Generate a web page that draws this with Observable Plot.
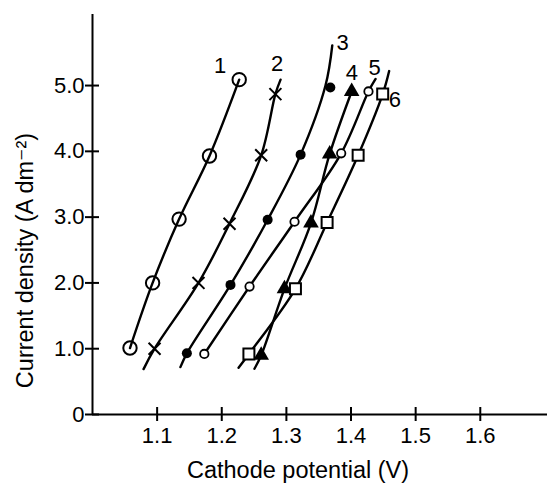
<!DOCTYPE html>
<html><head><meta charset="utf-8">
<script src="https://cdn.jsdelivr.net/npm/d3@7"></script>
<script src="https://cdn.jsdelivr.net/npm/@observablehq/plot@0.6"></script>
<style>
body{margin:0;background:#fff}
svg{display:block}
</style>
</head><body><div id="chart"></div>
<script>
// Tick labels
const xTicks = [1.1, 1.2, 1.3, 1.4, 1.5, 1.6];
const yTicks = [0, 1, 2, 3, 4, 5];
const xTitle = "Cathode potential (V)";
const yTitle = "Current density (A dm⁻²)";

// Measured points (cathode potential V, current density A dm-2)
const s1x = [1.058, 1.093, 1.134, 1.181, 1.227];
const s1y = [1.01, 2.00, 2.97, 3.93, 5.09];
const s2x = [1.096, 1.164, 1.212, 1.261, 1.283];
const s2y = [1.00, 2.00, 2.90, 3.94, 4.87];
const s3x = [1.146, 1.2135, 1.271, 1.322, 1.368];
const s3y = [0.93, 1.97, 2.96, 3.95, 4.97];
const s4x = [1.261, 1.297, 1.338, 1.367, 1.401];
const s4y = [0.90, 1.91, 2.91, 3.96, 4.91];
const s5x = [1.173, 1.243, 1.3126, 1.3848, 1.427];
const s5y = [0.92, 1.945, 2.93, 3.97, 4.91];
const s6x = [1.242, 1.314, 1.363, 1.411, 1.449];
const s6y = [0.92, 1.91, 2.92, 3.94, 4.87];

// Drawn curves (incl. end extensions)
const c1x = [1.058, 1.093, 1.134, 1.181, 1.227];
const c1y = [1.01, 2.00, 2.97, 3.93, 5.09];
const c2x = [1.079, 1.096, 1.164, 1.212, 1.261, 1.283, 1.291];
const c2y = [0.69, 1.00, 2.00, 2.90, 3.94, 4.87, 5.09];
const c3x = [1.136, 1.146, 1.2135, 1.271, 1.322, 1.3605, 1.371];
const c3y = [0.72, 0.93, 1.97, 2.96, 3.95, 5.00, 5.61];
const c4x = [1.2506, 1.261, 1.297, 1.338, 1.367, 1.401];
const c4y = [0.695, 0.90, 1.91, 2.91, 3.96, 4.91];
const c5x = [1.173, 1.243, 1.3126, 1.3848, 1.427, 1.438];
const c5y = [0.92, 1.945, 2.93, 3.97, 4.91, 5.10];
const c6x = [1.226, 1.242, 1.314, 1.363, 1.411, 1.449, 1.459];
const c6y = [0.71, 0.92, 1.91, 2.92, 3.94, 4.87, 5.22];

// Curve labels
const labels = ["1", "2", "3", "4", "5", "6"];
const labelX = [1.1975, 1.2857, 1.387, 1.4015, 1.4365, 1.468];
const labelY = [5.30, 5.33, 5.64, 5.19, 5.27, 4.78];

const zip = (xs, ys) => xs.map((x, i) => ({x, y: ys[i]}));
const curves = [[c1x,c1y],[c2x,c2y],[c3x,c3y],[c4x,c4y],[c5x,c5y],[c6x,c6y]].map(([a,b]) => zip(a,b));
const pts = [[s1x,s1y],[s2x,s2y],[s3x,s3y],[s4x,s4y],[s5x,s5y],[s6x,s6y]].map(([a,b]) => zip(a,b));
const labelData = labels.map((t, i) => ({t, x: labelX[i], y: labelY[i]}));

const font = "'Liberation Sans', Arial, 'DejaVu Sans', sans-serif";

const markerStyles = [
  {symbol: "circle", r: 6.7, fill: "none", stroke: "black", strokeWidth: 2},
  {symbol: "times", r: 5.5, fill: "none", stroke: "black", strokeWidth: 2},
  {symbol: "circle", r: 5, fill: "black", stroke: "none"},
  {symbol: "triangle", r: 5.8, fill: "black", stroke: "none"},
  {symbol: "circle", r: 4.2, fill: "white", stroke: "black", strokeWidth: 1.8},
  {symbol: "square", r: 6.2, fill: "white", stroke: "black", strokeWidth: 2}
];

const chart = Plot.plot({
  width: 547,
  height: 488,
  marginLeft: 92,
  marginRight: 0,
  marginTop: 14,
  marginBottom: 74,
  style: {fontFamily: font, fontSize: "22px", color: "black", background: "white"},
  x: {domain: [1.0, 1.704]},
  y: {domain: [0, 6.08]},
  marks: [
    Plot.ruleX([1.0], {strokeWidth: 2}),
    Plot.ruleY([0], {strokeWidth: 2}),
    Plot.axisY(yTicks, {tickSize: 14, dx: 7, tickPadding: 1, strokeWidth: 2,
      tickFormat: d => d === 0 ? "0" : d.toFixed(1), label: null, fontSize: 22}),
    Plot.axisX(xTicks, {tickSize: 14, dy: -7, tickPadding: 6, strokeWidth: 2,
      tickFormat: d => d.toFixed(1), label: null, fontSize: 22}),
    ...curves.map(c => Plot.line(c, {x: "x", y: "y", curve: "catmull-rom", stroke: "black", strokeWidth: 2.4})),
    ...pts.map((p, i) => Plot.dot(p, {x: "x", y: "y", ...markerStyles[i]})),
    Plot.text(labelData, {x: "x", y: "y", text: "t", fontSize: 22}),
    Plot.text([xTitle], {frameAnchor: "bottom", dx: -22, dy: 56, lineAnchor: "middle", fontSize: 23.5}),
    Plot.text([yTitle], {frameAnchor: "left", dx: -67, dy: 46, rotate: -90, textAnchor: "middle", lineAnchor: "middle", fontSize: 23.5})
  ]
});
document.getElementById("chart").appendChild(chart);
</script>
</body></html>
